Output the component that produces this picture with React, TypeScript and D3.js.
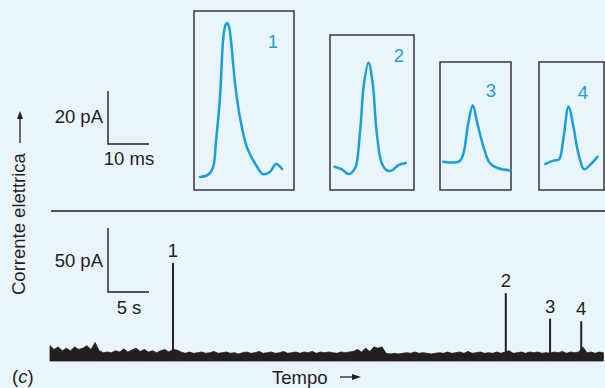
import React from "react";
import * as d3 from "d3";

// pulse shapes, time in ms from the box's left edge, current in pA above box floor
const pulse1T = [1.5, 3.4, 4.6, 5.4, 6.3, 7.1, 7.6, 8.0, 8.5, 9.0, 10.0, 11.2, 12.9, 15.4, 16.8, 18.5, 20.0, 21.5];
const pulse1I = [4.9, 5.7, 8.3, 18.9, 34, 56.6, 61.9, 63, 61.9, 56.6, 40.4, 27.5, 16.2, 8.7, 6.0, 6.8, 9.8, 7.9];
const pulse2T = [1.1, 2.9, 4.5, 6.1, 7.3, 8.3, 9.4, 10.4, 11.4, 12.6, 13.8, 15.0, 16.7, 18.5];
const pulse2I = [8.8, 7.8, 6.0, 8.2, 21.5, 40.4, 48.0, 40.4, 21.5, 10.2, 7.5, 7.3, 9.4, 10.2];
const pulse3T = [0.8, 4.7, 5.7, 6.9, 8.0, 9.1, 10.6, 12.2, 14.2, 17.1];
const pulse3I = [10.7, 10.8, 13.8, 25.2, 32.0, 25.2, 16.3, 10.1, 8.2, 7.4];
const pulse4T = [1.5, 3.5, 4.9, 5.9, 7.2, 8.4, 9.6, 11.0, 12.4, 14.3];
const pulse4I = [9.8, 11.1, 11.6, 18.9, 31.4, 23.9, 13.8, 7.8, 9.4, 12.6];
const pulseLabels = ["1", "2", "3", "4"];

// long recording: event times (s) and amplitudes (pA)
const eventTimes = [15.0, 55.6, 61.0, 64.8];
const eventPeaks = [76.6, 53, 33, 31];
// upper edge of the noise band every 0.5 s (pA)
const noise = [
  12, 9, 11, 8, 10, 8, 11, 9, 10, 12, 9, 14.5, 8, 6.5, 7, 6.5, 8, 7, 9.5, 7,
  8.5, 10, 7.5, 9, 7, 8, 6.5, 8, 9, 7, 9, 8.5, 7, 6, 7, 6, 6.5, 7, 6, 6.5,
  7.5, 6, 6.5, 7, 6, 6.5, 5.5, 6.5, 7, 6, 6.5, 7.5, 6, 6.5, 7, 6, 6.5, 7.5, 6, 6.5,
  7, 6, 7, 6.5, 7.5, 6, 7, 6.5, 7, 6.5, 6, 7, 6.5, 7, 7.5, 9, 7, 10, 7.5, 11,
  10, 11, 6, 5.5, 6, 5.5, 6, 6.5, 6, 7, 6, 6.5, 6, 5.5, 6, 6.5, 6, 7, 6, 6.5,
  7, 6, 7.5, 6, 6.5, 7, 6, 6.5, 6, 7, 6, 7, 8, 6, 6.5, 7, 6, 7, 6.5, 7,
  6, 6.5, 6, 7, 6.5, 7.5, 6, 7, 6.5, 7, 11, 6.5, 7, 6, 7, 6.5,
];

const BG = "#e9f4fb";
const INK = "#231f20";
const CYAN = "#1a9fdb";
const FONT = "'Liberation Sans', Arial, Helvetica, sans-serif";
const FS = 18.5;

// box frames (px)
const boxes = [
  { x: 194, y: 11, w: 100, lx: 273, ly: 48 },
  { x: 330, y: 35, w: 84, lx: 399, ly: 62 },
  { x: 440, y: 62, w: 71, lx: 491, ly: 97 },
  { x: 539, y: 62, w: 65, lx: 583, ly: 99 },
];
const boxBottom = 190;

export default function App() {
  const pulses = [
    [pulse1T, pulse1I],
    [pulse2T, pulse2I],
    [pulse3T, pulse3I],
    [pulse4T, pulse4I],
  ];

  // top scale: 10 ms / 20 pA
  const msW = d3.scaleLinear().domain([0, 10]).range([0, 41]);
  const pAH = d3.scaleLinear().domain([0, 20]).range([0, 53]);

  // bottom recording
  const tx = d3.scaleLinear().domain([0, 67.7]).range([50, 605]);
  const iy = d3.scaleLinear().domain([0, 50]).range([361, 297]);

  const noiseArea = d3
    .area<number>()
    .x((d, i) => tx(i * 0.5))
    .y0(iy(0))
    .y1((d) => iy(d))
    .curve(d3.curveLinear);

  const barX = 108;

  return (
    <div style={{ position: "fixed", left: 0, top: 0 }}>
      <svg width={605} height={388} style={{ display: "block" }} fontFamily={FONT}>
        <rect x={0} y={0} width={605} height={388} fill={BG} />

        {/* pulse boxes */}
        {boxes.map((b, k) => {
          const xs = d3.scaleLinear().domain([0, 10]).range([b.x, b.x + msW(10)]);
          const ys = d3.scaleLinear().domain([0, 20]).range([boxBottom, boxBottom - pAH(20)]);
          const [T, I] = pulses[k];
          const line = d3
            .line<number>()
            .x((d, i) => xs(T[i]))
            .y((d) => ys(d))
            .curve(d3.curveCatmullRom.alpha(0.5));
          return (
            <g key={k}>
              <rect x={b.x} y={b.y} width={b.w} height={boxBottom - b.y} fill="none" stroke="#2b2b2b" strokeWidth={1.4} />
              <path d={line(I) || ""} fill="none" stroke={CYAN} strokeWidth={2.5} strokeLinejoin="round" strokeLinecap="round" />
              <text x={b.lx} y={b.ly} fill={CYAN} fontSize={FS} textAnchor="middle">{pulseLabels[k]}</text>
            </g>
          );
        })}

        {/* top scale bar */}
        <path d={`M${barX},${144 - pAH(20)}V144H${barX + msW(10)}`} fill="none" stroke={INK} strokeWidth={1.4} />
        <text x={103} y={123} fontSize={FS} fill={INK} textAnchor="end">20 pA</text>
        <text x={129} y={165} fontSize={FS} fill={INK} textAnchor="middle">10 ms</text>

        {/* divider */}
        <line x1={51} x2={605} y1={211} y2={211} stroke={INK} strokeWidth={1.4} />

        {/* bottom scale bar */}
        <path d={`M${barX},${292 - (iy(0) - iy(50))}V292H${barX + tx(5) - tx(0)}`} fill="none" stroke={INK} strokeWidth={1.4} />
        <text x={103} y={267} fontSize={FS} fill={INK} textAnchor="end">50 pA</text>
        <text x={129} y={314} fontSize={FS} fill={INK} textAnchor="middle">5 s</text>

        {/* recording */}
        <path d={noiseArea(noise) || ""} fill={INK} stroke={INK} strokeWidth={0.8} />
        {eventTimes.map((t, k) => (
          <g key={k}>
            <line x1={tx(t)} x2={tx(t)} y1={iy(0)} y2={iy(eventPeaks[k])} stroke={INK} strokeWidth={2} />
            <text x={tx(t)} y={iy(eventPeaks[k]) - 6} fontSize={FS} fill={INK} textAnchor="middle">{pulseLabels[k]}</text>
          </g>
        ))}

        {/* axis labels */}
        <text transform="translate(25,295) rotate(-90)" fontSize={FS} fill={INK}>Corrente elettrica</text>
        <line x1={20} x2={20} y1={143} y2={117} stroke={INK} strokeWidth={1.3} />
        <path d="M20,111L17,119L23,119Z" fill={INK} />

        <text x={12} y={383} fontSize={FS} fill={INK}>(<tspan fontStyle="italic">c</tspan>)</text>
        <text x={272} y={384} fontSize={FS} fill={INK}>Tempo</text>
        <line x1={340} x2={354} y1={377} y2={377} stroke={INK} strokeWidth={1.3} />
        <path d="M361,377L352,374L352,380Z" fill={INK} />
      </svg>
    </div>
  );
}
